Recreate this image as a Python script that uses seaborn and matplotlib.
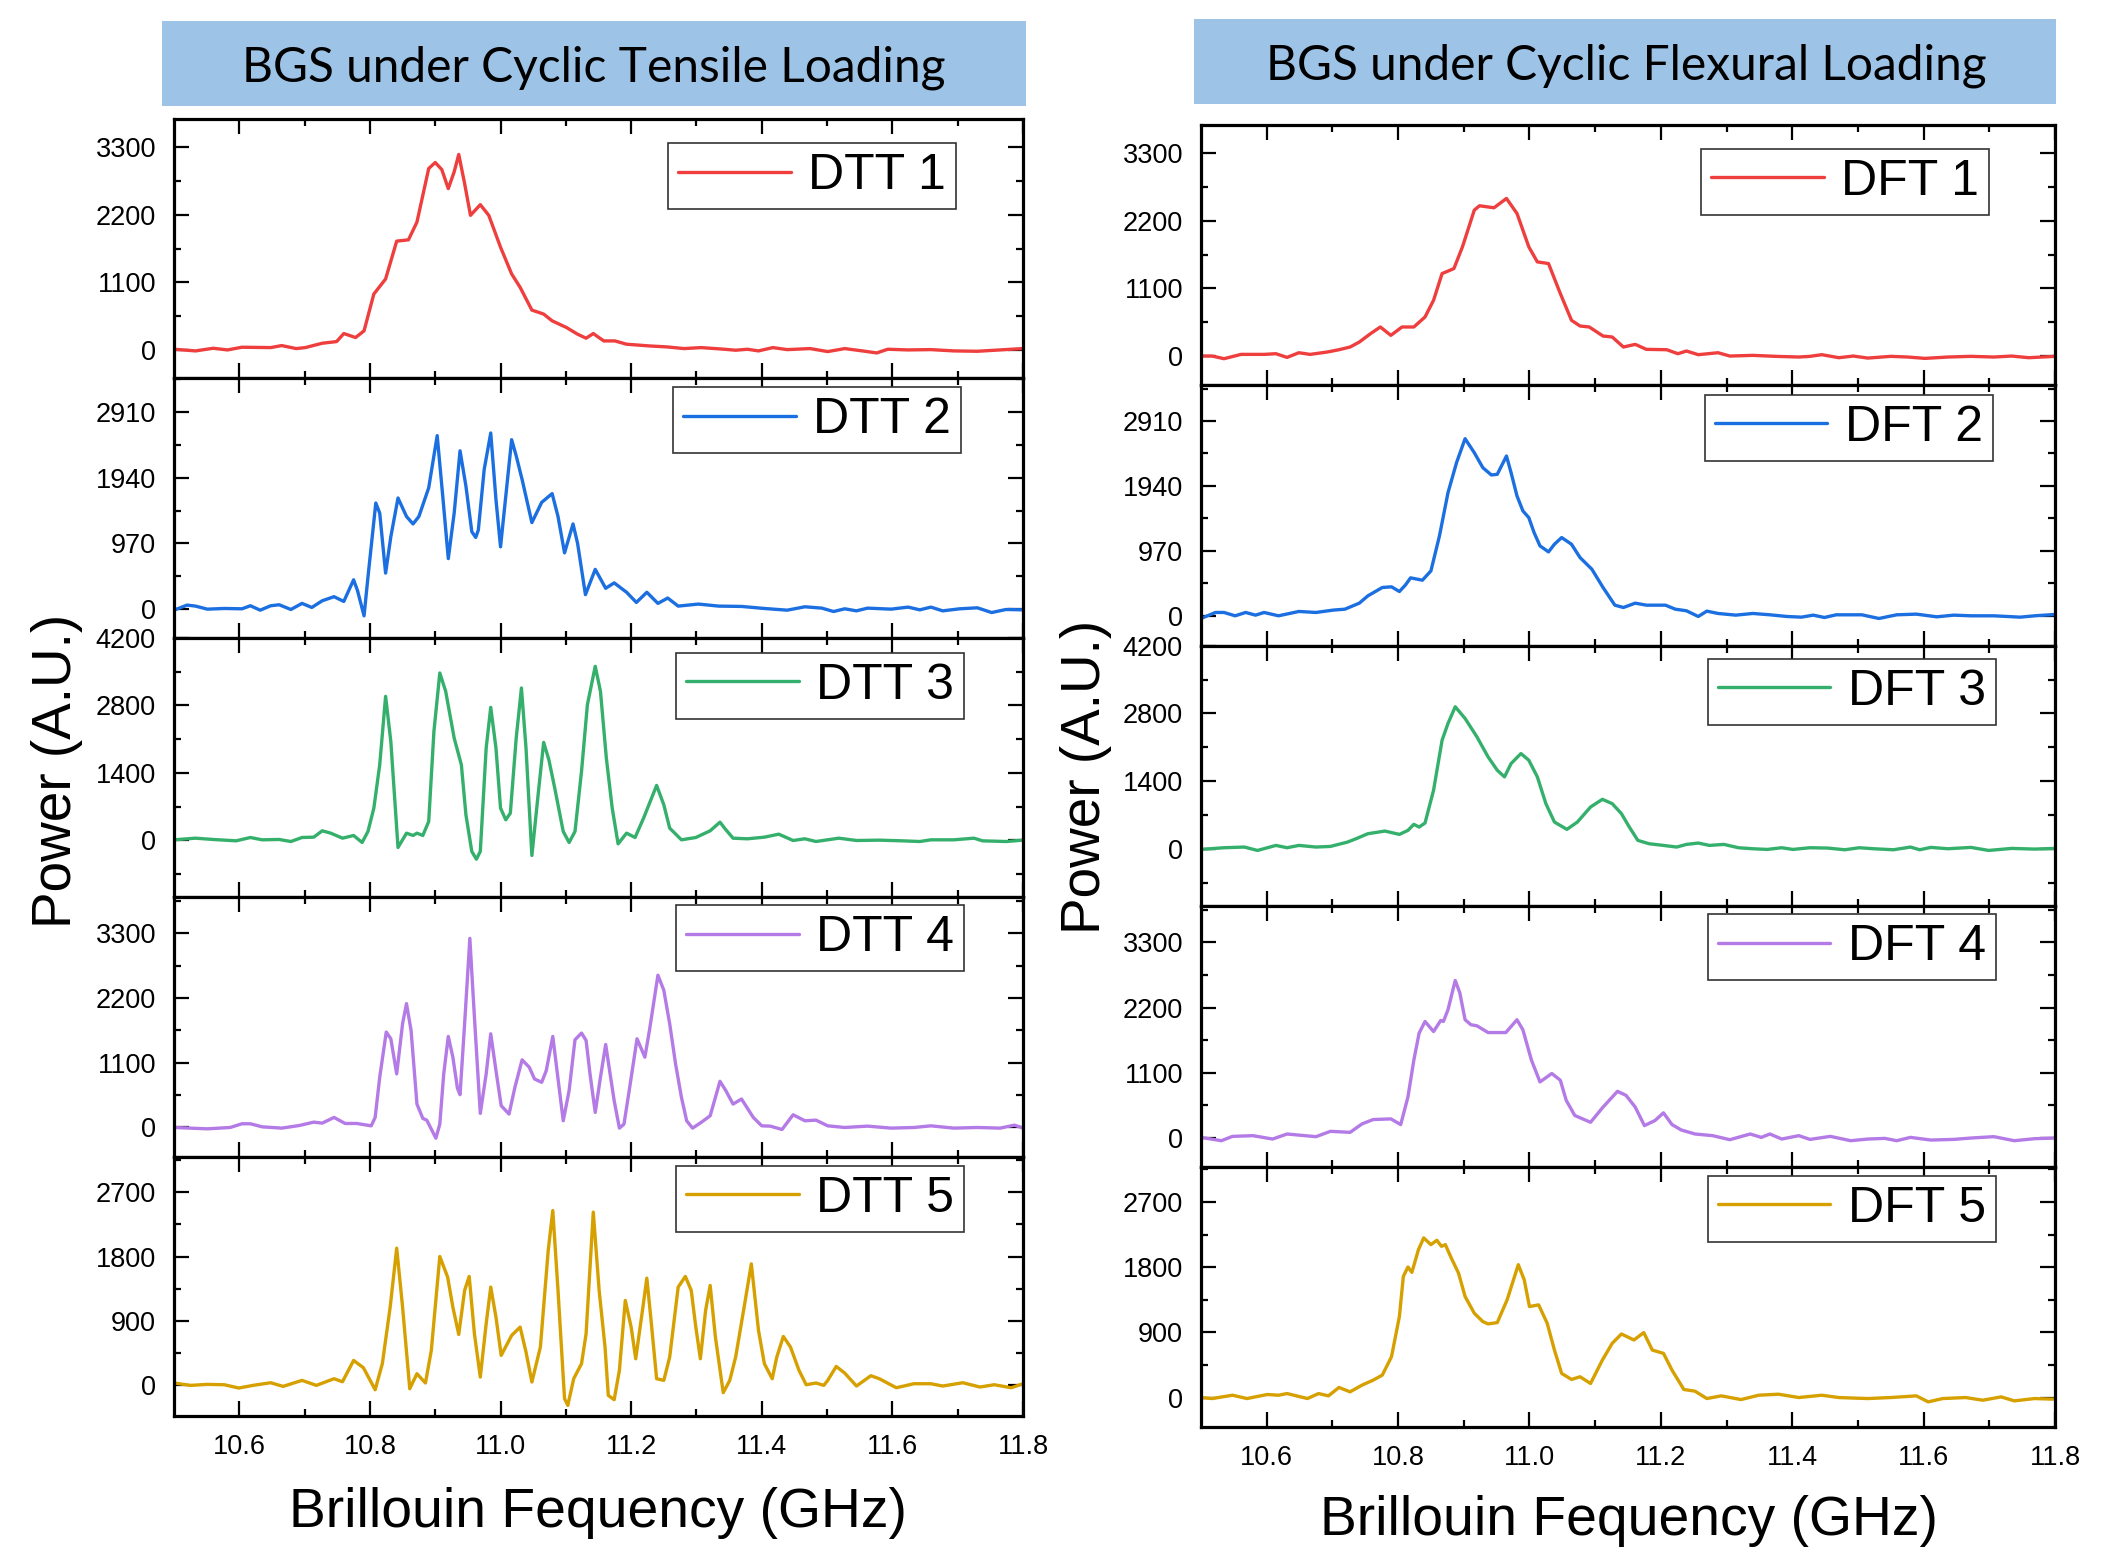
import matplotlib
matplotlib.use("Agg")
import matplotlib.pyplot as plt
from matplotlib.patches import Rectangle
from matplotlib.ticker import AutoMinorLocator
import seaborn as sns

# ---- data (frequency in GHz, power in A.U.) ----
dtt1_f = [10.500, 10.533, 10.560, 10.582, 10.604, 10.648, 10.665, 10.687, 10.701, 10.727, 10.749, 10.760,
          10.778, 10.791, 10.806, 10.824, 10.841, 10.859, 10.872, 10.890, 10.900, 10.910, 10.920, 10.929,
          10.936, 10.945, 10.954, 10.969, 10.982, 11.000, 11.017, 11.030, 11.048, 11.066, 11.079, 11.101,
          11.118, 11.131, 11.142, 11.158, 11.175, 11.193, 11.228, 11.255, 11.281, 11.307, 11.343, 11.360,
          11.378, 11.395, 11.417, 11.439, 11.474, 11.501, 11.527, 11.554, 11.576, 11.593, 11.624, 11.659,
          11.694, 11.730, 11.765, 11.800]
dtt1_p = [11, -16, 27, 0, 44, 38, 71, 22, 38, 109, 136, 267,
          202, 311, 911, 1156, 1773, 1794, 2083, 2956, 3054, 2940, 2629, 2902,
          3185, 2711, 2193, 2367, 2193, 1674, 1238, 1020, 649, 584, 474, 365,
          256, 191, 267, 147, 147, 93, 65, 49, 22, 38, 11, -5,
          11, -16, 38, 5, 22, -27, 22, -16, -49, 11, 0, 5,
          -16, -22, 0, 22]

dtt2_f = [10.500, 10.520, 10.533, 10.551, 10.577, 10.604, 10.617, 10.632, 10.648, 10.661, 10.679, 10.696,
          10.711, 10.727, 10.745, 10.760, 10.775, 10.781, 10.791, 10.797, 10.809, 10.815, 10.824, 10.832,
          10.843, 10.856, 10.866, 10.875, 10.890, 10.903, 10.912, 10.920, 10.929, 10.938, 10.947, 10.956,
          10.962, 10.966, 10.975, 10.985, 10.993, 11.000, 11.008, 11.017, 11.024, 11.033, 11.048, 11.063,
          11.079, 11.088, 11.098, 11.111, 11.118, 11.130, 11.145, 11.161, 11.174, 11.193, 11.208, 11.224,
          11.241, 11.256, 11.272, 11.303, 11.334, 11.369, 11.404, 11.439, 11.466, 11.492, 11.510, 11.527,
          11.545, 11.562, 11.598, 11.624, 11.642, 11.659, 11.677, 11.703, 11.730, 11.752, 11.774, 11.800]
dtt2_p = [-15, 60, 45, 0, 10, 5, 50, -15, 50, 65, -5, 85,
          25, 124, 184, 114, 433, 274, -99, 473, 1567, 1418, 532, 1069,
          1641, 1368, 1258, 1368, 1791, 2562, 1617, 746, 1418, 2338, 1816, 1144,
          1059, 1169, 2064, 2601, 1617, 920, 1666, 2502, 2263, 1915, 1278, 1577,
          1706, 1368, 831, 1258, 970, 214, 587, 308, 388, 249, 99, 249,
          85, 164, 45, 75, 45, 40, 10, -15, 35, 15, -35, 5,
          -25, 15, 0, 30, -10, 30, -25, 5, 20, -50, -5, -10]

dtt3_f = [10.500, 10.533, 10.560, 10.595, 10.617, 10.635, 10.661, 10.679, 10.696, 10.714, 10.727, 10.740,
          10.758, 10.775, 10.788, 10.797, 10.806, 10.815, 10.824, 10.832, 10.843, 10.856, 10.866, 10.872,
          10.881, 10.890, 10.898, 10.907, 10.916, 10.929, 10.940, 10.947, 10.956, 10.963, 10.969, 10.978,
          10.985, 10.993, 11.000, 11.008, 11.015, 11.024, 11.032, 11.039, 11.048, 11.057, 11.066, 11.074,
          11.083, 11.096, 11.105, 11.114, 11.124, 11.133, 11.145, 11.153, 11.162, 11.171, 11.180, 11.193,
          11.206, 11.219, 11.239, 11.250, 11.259, 11.277, 11.299, 11.321, 11.336, 11.343, 11.356, 11.378,
          11.404, 11.426, 11.448, 11.466, 11.483, 11.518, 11.545, 11.580, 11.615, 11.642, 11.659, 11.694,
          11.725, 11.738, 11.774, 11.800]
dtt3_p = [14, 48, 21, -7, 62, 14, 21, -21, 62, 69, 201, 152,
          48, 104, -41, 187, 671, 1569, 2987, 2053, -145, 152, 104, 152,
          104, 394, 2261, 3471, 3091, 2123, 1569, 532, -228, -387, -228, 1915,
          2759, 1915, 671, 429, 567, 2123, 3160, 1915, -311, 878, 2033, 1673,
          1085, 187, -41, 187, 1431, 2814, 3609, 3091, 1708, 671, -69, 152,
          62, 463, 1141, 740, 256, 14, 62, 201, 380, 256, 48, 35,
          69, 131, 0, 35, -21, 48, 0, 7, -7, -21, 14, 14,
          48, -7, -21, 7]

dtt4_f = [10.500, 10.525, 10.551, 10.586, 10.604, 10.617, 10.635, 10.665, 10.692, 10.714, 10.727, 10.745,
          10.762, 10.780, 10.802, 10.808, 10.815, 10.825, 10.832, 10.841, 10.850, 10.856, 10.863, 10.872,
          10.881, 10.887, 10.894, 10.901, 10.907, 10.913, 10.920, 10.927, 10.934, 10.938, 10.945, 10.953,
          10.960, 10.969, 10.978, 10.985, 10.993, 11.001, 11.013, 11.022, 11.033, 11.044, 11.052, 11.063,
          11.070, 11.080, 11.089, 11.096, 11.105, 11.114, 11.124, 11.131, 11.137, 11.145, 11.153, 11.161,
          11.167, 11.174, 11.182, 11.189, 11.197, 11.209, 11.221, 11.228, 11.241, 11.250, 11.259, 11.268,
          11.277, 11.285, 11.294, 11.307, 11.321, 11.329, 11.336, 11.345, 11.356, 11.369, 11.387, 11.400,
          11.413, 11.431, 11.448, 11.466, 11.483, 11.501, 11.527, 11.562, 11.598, 11.633, 11.659, 11.694,
          11.730, 11.765, 11.787, 11.800]
dtt4_p = [0, -11, -23, 0, 63, 63, 11, -11, 34, 91, 74, 171,
          68, 68, 28, 171, 854, 1622, 1508, 911, 1764, 2106, 1650, 398,
          154, 125, -28, -182, 57, 911, 1548, 1195, 666, 558, 1764, 3215,
          1878, 239, 911, 1593, 967, 370, 228, 683, 1150, 1024, 825, 768,
          967, 1548, 740, 114, 626, 1491, 1605, 1480, 911, 256, 854, 1411,
          967, 455, -11, 57, 626, 1508, 1195, 1650, 2589, 2333, 1764, 1081,
          512, 114, -11, 85, 199, 512, 785, 626, 398, 484, 171, 28,
          23, -34, 216, 114, 125, 28, 0, 23, -11, 0, 28, -11,
          0, -11, 40, -11]

dtt5_f = [10.500, 10.525, 10.551, 10.577, 10.599, 10.621, 10.648, 10.667, 10.696, 10.718, 10.745, 10.758,
          10.775, 10.790, 10.808, 10.819, 10.831, 10.841, 10.850, 10.861, 10.872, 10.885, 10.894, 10.907,
          10.919, 10.927, 10.936, 10.945, 10.952, 10.960, 10.969, 10.978, 10.985, 10.993, 11.001, 11.017,
          11.030, 11.039, 11.048, 11.061, 11.073, 11.080, 11.088, 11.098, 11.103, 11.112, 11.124, 11.131,
          11.142, 11.151, 11.160, 11.165, 11.174, 11.182, 11.191, 11.200, 11.207, 11.218, 11.224, 11.230,
          11.239, 11.250, 11.259, 11.272, 11.283, 11.292, 11.299, 11.306, 11.314, 11.321, 11.329, 11.341,
          11.351, 11.360, 11.373, 11.384, 11.395, 11.404, 11.416, 11.423, 11.433, 11.444, 11.457, 11.468,
          11.483, 11.495, 11.501, 11.514, 11.527, 11.545, 11.567, 11.580, 11.606, 11.633, 11.659, 11.677,
          11.708, 11.734, 11.756, 11.782, 11.800]
dtt5_p = [33, 0, 14, 9, -37, 0, 37, -14, 70, 0, 93, 51,
          349, 247, -61, 303, 1094, 1918, 1094, -47, 163, 33, 489, 1802,
          1513, 1094, 712, 1327, 1523, 722, 116, 861, 1374, 954, 419, 698,
          815, 466, 47, 535, 1886, 2444, 1327, -186, -279, 93, 303, 722,
          2421, 1327, 535, -140, -200, 210, 1187, 815, 372, 1094, 1499, 954,
          93, 70, 396, 1374, 1523, 1327, 815, 372, 1048, 1397, 675, -102,
          70, 396, 1094, 1699, 768, 303, 93, 396, 684, 535, 210, 9,
          33, 0, 70, 265, 172, -9, 135, 93, -33, 23, 23, -9,
          37, -23, 9, -33, 23]

dft1_f = [10.500, 10.517, 10.535, 10.561, 10.596, 10.614, 10.631, 10.649, 10.666, 10.692, 10.710, 10.727,
          10.741, 10.758, 10.773, 10.789, 10.806, 10.824, 10.841, 10.854, 10.867, 10.885, 10.898, 10.916,
          10.924, 10.946, 10.965, 10.981, 10.999, 11.012, 11.029, 11.047, 11.064, 11.077, 11.091, 11.112,
          11.126, 11.143, 11.161, 11.178, 11.209, 11.226, 11.239, 11.257, 11.287, 11.305, 11.340, 11.375,
          11.410, 11.427, 11.445, 11.471, 11.493, 11.515, 11.550, 11.576, 11.602, 11.637, 11.672, 11.707,
          11.734, 11.760, 11.800]
dft1_p = [0, 0, -43, 27, 27, 38, -22, 54, 27, 65, 103, 147,
          228, 364, 473, 337, 473, 473, 636, 908, 1343, 1424, 1778, 2376,
          2447, 2414, 2566, 2322, 1778, 1533, 1506, 1017, 582, 489, 473, 326,
          310, 147, 190, 109, 103, 38, 82, 22, 54, 0, 11, -5,
          -16, -5, 22, -27, 0, -33, -5, -16, -38, -16, -5, -16,
          0, -27, -5]

dft2_f = [10.500, 10.522, 10.535, 10.552, 10.568, 10.583, 10.596, 10.618, 10.649, 10.675, 10.701, 10.719,
          10.741, 10.754, 10.776, 10.790, 10.802, 10.811, 10.819, 10.837, 10.850, 10.863, 10.876, 10.889,
          10.902, 10.916, 10.929, 10.942, 10.951, 10.965, 10.972, 10.981, 10.990, 10.999, 11.007, 11.016,
          11.029, 11.038, 11.049, 11.064, 11.077, 11.095, 11.112, 11.130, 11.143, 11.161, 11.178, 11.207,
          11.222, 11.239, 11.257, 11.270, 11.287, 11.314, 11.340, 11.366, 11.392, 11.414, 11.432, 11.449,
          11.467, 11.506, 11.532, 11.559, 11.589, 11.620, 11.646, 11.672, 11.707, 11.747, 11.769, 11.800]
dft2_p = [-40, 50, 50, 0, 50, 10, 50, 0, 65, 50, 85, 99,
          189, 298, 423, 433, 363, 458, 567, 532, 671, 1194, 1840, 2288,
          2646, 2437, 2213, 2104, 2114, 2387, 2139, 1791, 1567, 1467, 1244, 1045,
          955, 1069, 1169, 1069, 870, 696, 423, 159, 124, 189, 159, 159,
          99, 75, -10, 70, 35, 10, 35, 15, -10, -20, 10, -25,
          15, 15, -40, 15, 25, -15, 10, 0, 0, -20, 0, 20]

dft3_f = [10.500, 10.535, 10.566, 10.586, 10.614, 10.631, 10.649, 10.675, 10.697, 10.723, 10.736, 10.754,
          10.780, 10.802, 10.815, 10.824, 10.832, 10.841, 10.854, 10.867, 10.876, 10.887, 10.902, 10.920,
          10.937, 10.951, 10.962, 10.972, 10.987, 10.999, 11.012, 11.025, 11.038, 11.057, 11.073, 11.093,
          11.111, 11.126, 11.140, 11.152, 11.165, 11.182, 11.204, 11.224, 11.239, 11.257, 11.274, 11.296,
          11.318, 11.340, 11.362, 11.384, 11.401, 11.427, 11.454, 11.480, 11.502, 11.524, 11.554, 11.580,
          11.594, 11.611, 11.637, 11.672, 11.699, 11.734, 11.769, 11.800]
dft3_p = [-14, 21, 35, -35, 69, 21, 69, 35, 48, 138, 207, 311,
          366, 297, 380, 505, 449, 532, 1210, 2247, 2593, 2938, 2696, 2316,
          1901, 1625, 1487, 1763, 1970, 1832, 1487, 933, 553, 401, 553, 864,
          1023, 933, 726, 449, 173, 104, 69, 35, 90, 118, 69, 90,
          21, 0, -14, 21, -14, 21, 14, -21, 21, 0, -21, 35,
          -21, 28, 0, 28, -35, 7, -7, 7]

dft4_f = [10.500, 10.531, 10.548, 10.579, 10.609, 10.631, 10.675, 10.697, 10.727, 10.745, 10.762, 10.789,
          10.804, 10.815, 10.824, 10.832, 10.841, 10.854, 10.865, 10.869, 10.876, 10.887, 10.894, 10.902,
          10.911, 10.920, 10.937, 10.964, 10.981, 10.990, 11.003, 11.016, 11.034, 11.047, 11.056, 11.069,
          11.093, 11.112, 11.134, 11.147, 11.161, 11.175, 11.191, 11.204, 11.217, 11.231, 11.252, 11.279,
          11.305, 11.336, 11.353, 11.366, 11.384, 11.410, 11.427, 11.458, 11.489, 11.515, 11.541, 11.559,
          11.580, 11.611, 11.646, 11.672, 11.707, 11.738, 11.769, 11.800]
dft4_p = [11, -45, 28, 40, -17, 68, 23, 113, 96, 238, 312, 323,
          227, 692, 1315, 1769, 1967, 1797, 1985, 1967, 2166, 2659, 2449, 1996,
          1911, 1894, 1780, 1780, 1996, 1826, 1315, 947, 1089, 975, 635, 380,
          266, 522, 788, 720, 522, 210, 295, 425, 227, 136, 68, 40,
          -28, 68, 11, 68, -17, 40, -23, 28, -45, -17, -6, -45,
          11, -34, -23, 0, 23, -45, -11, 0]

dft5_f = [10.500, 10.517, 10.548, 10.570, 10.601, 10.618, 10.631, 10.662, 10.679, 10.694, 10.710, 10.727,
          10.745, 10.762, 10.776, 10.790, 10.802, 10.808, 10.815, 10.821, 10.831, 10.839, 10.850, 10.859,
          10.866, 10.872, 10.881, 10.892, 10.902, 10.916, 10.929, 10.937, 10.951, 10.966, 10.983, 10.992,
          11.000, 11.014, 11.027, 11.038, 11.049, 11.064, 11.077, 11.093, 11.111, 11.126, 11.140, 11.159,
          11.174, 11.187, 11.204, 11.217, 11.235, 11.252, 11.270, 11.292, 11.322, 11.349, 11.379, 11.410,
          11.445, 11.471, 11.515, 11.550, 11.589, 11.607, 11.629, 11.664, 11.690, 11.718, 11.738, 11.769,
          11.800]
dft5_p = [0, -14, 32, -14, 42, 32, 55, -14, 55, 23, 139, 79,
          171, 240, 310, 564, 1119, 1673, 1803, 1729, 2043, 2205, 2112, 2172,
          2089, 2112, 1927, 1719, 1396, 1165, 1049, 1017, 1035, 1350, 1835, 1627,
          1257, 1280, 1026, 656, 333, 250, 287, 194, 518, 749, 878, 795,
          897, 656, 610, 379, 111, 88, -14, 23, -28, 32, 46, 0,
          32, 0, -14, 0, 23, -60, -14, 0, -37, 9, -46, -14,
          -23]

tensile_names = ["DTT 1", "DTT 2", "DTT 3", "DTT 4", "DTT 5"]
flexural_names = ["DFT 1", "DFT 2", "DFT 3", "DFT 4", "DFT 5"]
tensile_data = [(dtt1_f, dtt1_p), (dtt2_f, dtt2_p), (dtt3_f, dtt3_p), (dtt4_f, dtt4_p), (dtt5_f, dtt5_p)]
flexural_data = [(dft1_f, dft1_p), (dft2_f, dft2_p), (dft3_f, dft3_p), (dft4_f, dft4_p), (dft5_f, dft5_p)]

tensile_yticks = [[0, 1100, 2200, 3300], [0, 970, 1940, 2910], [0, 1400, 2800, 4200],
                  [0, 1100, 2200, 3300], [0, 900, 1800, 2700]]
flexural_yticks = tensile_yticks
tensile_ylim = [(-464, 3763), (-423, 3407), (-1175, 4200), (-495, 3915), (-428, 3198)]
flexural_ylim = [(-478, 3762), (-448, 3442), (-1189, 4200), (-482, 3912), (-407, 3190)]

freq_ticks = [10.6, 10.8, 11.0, 11.2, 11.4, 11.6, 11.8]
freq_minor = [10.7, 10.9, 11.1, 11.3, 11.5, 11.7]

colors = ["#ee3e3e", "#1b6fe0", "#35b06c", "#b47ae6", "#d6a000"]

# legend anchors (axes fraction of the box's upper-right corner)
tensile_leg = [(0.921, 0.907), (0.927, 0.965), (0.931, 0.942), (0.931, 0.969), (0.931, 0.965)]
flexural_leg = [(0.923, 0.908), (0.927, 0.965), (0.931, 0.950), (0.931, 0.969), (0.931, 0.965)]

sns.set_style("ticks")
plt.rcParams["font.family"] = ["Liberation Sans", "DejaVu Sans"]
plt.rcParams["axes.edgecolor"] = "black"
plt.rcParams["xtick.color"] = "black"
plt.rcParams["ytick.color"] = "black"
plt.rcParams["text.color"] = "black"

W, H = 2120, 1548
fig = plt.figure(figsize=(W / 100, H / 100), dpi=100)


def column(x_left, x_right, y_top, y_bot, data, names, yticks, ylims, legs):
    ph = (y_bot - y_top) / 5
    for i in range(5):
        top = y_top + i * ph
        ax = fig.add_axes([x_left / W, 1 - (top + ph) / H, (x_right - x_left) / W, ph / H])
        f, p = data[i]
        sns.lineplot(x=f, y=p, ax=ax, color=colors[i], linewidth=2.4, label=names[i])
        ax.set_xlim(10.5, 11.8)
        ax.set_ylim(*ylims[i])
        ax.set_xticks(freq_ticks)
        ax.set_xticks(freq_minor, minor=True)
        ax.set_yticks(yticks[i])
        ax.yaxis.set_minor_locator(AutoMinorLocator(2))
        ax.set_yticklabels([str(v) for v in yticks[i]])
        if i == 4:
            ax.set_xticklabels(["%.1f" % v for v in freq_ticks])
        else:
            ax.set_xticklabels([])
        ax.tick_params(which="both", direction="in", top=True, right=True, width=1.6,
                       labelsize=19.5, pad=13)
        ax.tick_params(which="major", length=11)
        ax.tick_params(which="minor", length=5)
        for s in ax.spines.values():
            s.set_linewidth(2.3)
            s.set_color("black")
        ax.set_xlabel("")
        ax.set_ylabel("")
        leg = ax.legend(loc="upper right", bbox_to_anchor=legs[i], borderaxespad=0,
                        fontsize=36, handlelength=2.25, handletextpad=0.35, borderpad=0.2,
                        fancybox=False, frameon=True, framealpha=1)
        leg.get_frame().set_edgecolor("#333333")
        leg.get_frame().set_linewidth(1.2)
        for ln in leg.get_lines():
            ln.set_linewidth(2.4)


column(174, 1023, 119, 1416, tensile_data, tensile_names, tensile_yticks, tensile_ylim, tensile_leg)
column(1201, 2055, 125, 1427, flexural_data, flexural_names, flexural_yticks, flexural_ylim, flexural_leg)

# header boxes
fig.patches.append(Rectangle((162 / W, 1 - 106 / H), 864 / W, 85 / H, transform=fig.transFigure,
                             facecolor="#9dc3e6", edgecolor="none", zorder=0))
fig.patches.append(Rectangle((1194 / W, 1 - 104 / H), 862 / W, 85 / H, transform=fig.transFigure,
                             facecolor="#9dc3e6", edgecolor="none", zorder=0))
fig.text(594 / W, 1 - 81 / H, "BGS under Cyclic Tensile Loading", ha="center", va="baseline",
         fontsize=34.5, family=["Lato", "DejaVu Sans"])
fig.text(1626 / W, 1 - 80 / H, "BGS under Cyclic Flexural Loading", ha="center", va="baseline",
         fontsize=34.5, family=["Lato", "DejaVu Sans"])

# axis titles
fig.text(57 / W, 1 - 771 / H, "Power (A.U.)", rotation=90, ha="center", va="center", fontsize=39.5)
fig.text(1086 / W, 1 - 777 / H, "Power (A.U.)", rotation=90, ha="center", va="center", fontsize=39.5)
fig.text(598 / W, 1 - 1513 / H, "Brillouin Fequency (GHz)", ha="center", va="center", fontsize=39.8)
fig.text(1629 / W, 1 - 1521 / H, "Brillouin Fequency (GHz)", ha="center", va="center", fontsize=39.8)

fig.savefig("out.png", dpi=100)
